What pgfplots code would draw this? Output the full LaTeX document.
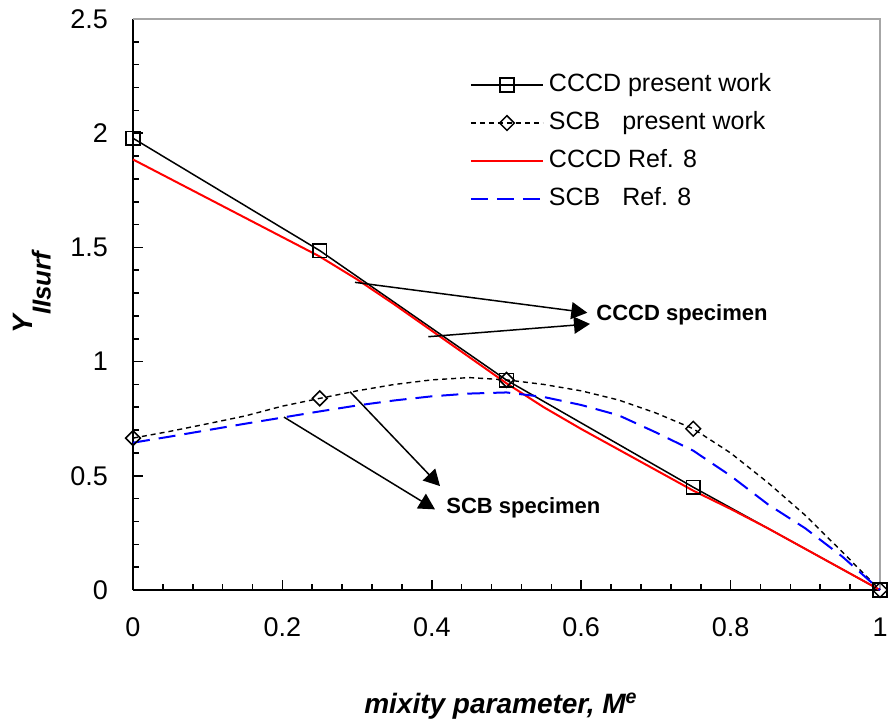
\documentclass[border=0pt]{standalone}
\usepackage{fontspec}
\setmainfont{Liberation Sans}
\usepackage{pgfplots}
\pgfplotsset{compat=1.18}
\usetikzlibrary{arrows.meta}
\pgfplotsset{diamondleg/.style={legend image code/.code={\draw[##1] (0pt,0pt) -- (36pt,0pt);
    \draw[black, solid, line width=0.75pt] plot[mark=square, mark size=2.6pt, mark options={rotate=45}] coordinates {(18pt,0pt)};}}}

\begin{document}
\begin{tikzpicture}
\begin{axis}[
  name=ax,
  scale only axis, width=373.5pt, height=285.5pt,
  xmin=0, xmax=1, ymin=0, ymax=2.5,
  xtick={0,0.2,0.4,0.6,0.8,1}, ytick={0,0.5,1,1.5,2,2.5},
  minor x tick num=4, minor y tick num=4,
  axis x line*=bottom, axis y line*=left,
  axis line style={-, black, line width=1pt},
  tick align=inside,
  major tick length=5pt, minor tick length=3pt,
  every tick/.style={black, line width=0.8pt},
  /pgf/number format/assume math mode=true,
  tick label style={font=\fontsize{13.5}{16}\selectfont},
  xticklabel style={yshift=-10.5pt},
  yticklabel style={xshift=-9pt},
  clip=false,
  xlabel={mixity parameter, M\textsuperscript{e}},
  xlabel style={font=\fontsize{14}{16}\selectfont\bfseries\itshape, at={(axis description cs:0.4926,-0.203)}, anchor=center},
  ylabel={\fontsize{14}{14}\selectfont Y\raisebox{-9pt}{\fontsize{13}{13}\selectfont IIsurf}},
  ylabel style={font=\bfseries\itshape, at={(axis description cs:-0.1352,0.521)}, anchor=center, rotate=0},
  legend style={draw=none, fill=none, at={(axis description cs:0.4511,0.9054)}, anchor=north west,
    inner sep=0pt, outer sep=0pt, font=\fontsize{12.5}{15}\selectfont,
    nodes={inner sep=0pt, text height=9pt, text depth=3pt}, row sep=7pt, column sep=2.5pt},
  legend cell align=left,
  legend image code/.code={\draw[mark repeat=2,mark phase=2,#1] plot coordinates {(0pt,0pt) (18pt,0pt) (36pt,0pt)};},
]
\draw[gray!70, line width=0.6pt] (rel axis cs:0,1) -- (rel axis cs:1,1) -- (rel axis cs:1,0);

\addplot[black, line width=0.75pt, mark=square, mark size=3.4pt, mark options={solid, line width=0.75pt}]
  coordinates {(0,1.978) (0.25,1.486) (0.5,0.919) (0.75,0.45) (1,0)};
\addlegendentry{CCCD present work}

\addplot[black, line width=0.7pt, dash pattern=on 2.5pt off 2pt, diamondleg]
  coordinates {(0,0.665) (0.05,0.695) (0.1,0.728) (0.15,0.762) (0.2,0.805) (0.25,0.839)
  (0.3,0.872) (0.35,0.9) (0.4,0.92) (0.45,0.93) (0.5,0.92) (0.55,0.9) (0.6,0.872)
  (0.65,0.832) (0.7,0.775) (0.75,0.706) (0.8,0.6) (0.85,0.47) (0.9,0.327) (0.95,0.165) (1,0)};
\addlegendentry{SCB\hspace{7.5pt} present work}

\addplot[red, line width=1pt]
  coordinates {(0,1.885) (0.05,1.8) (0.1,1.715) (0.15,1.63) (0.2,1.545) (0.25,1.46)
  (0.3,1.36) (0.35,1.25) (0.4,1.135) (0.45,1.02) (0.5,0.905) (0.55,0.8) (0.6,0.705)
  (0.65,0.615) (0.7,0.525) (0.75,0.435) (0.8,0.355) (0.85,0.27) (0.9,0.18) (0.95,0.09) (1,0)};
\addlegendentry{CCCD Ref. 8}

\addplot[blue, line width=1pt, dash pattern=on 8.5pt off 4.5pt]
  coordinates {(0,0.645) (0.05,0.672) (0.1,0.7) (0.15,0.728) (0.2,0.755) (0.25,0.782)
  (0.3,0.808) (0.35,0.83) (0.4,0.848) (0.45,0.86) (0.5,0.865) (0.55,0.845) (0.6,0.81)
  (0.65,0.765) (0.7,0.69) (0.75,0.61) (0.8,0.5) (0.85,0.375) (0.9,0.27) (0.95,0.145) (1,0)};
\addlegendentry{SCB\hspace{7.5pt} Ref. 8}

\addplot[only marks, forget plot, black, mark=square, mark size=2.6pt, mark options={solid, rotate=45, line width=0.75pt}]
  coordinates {(0,0.665) (0.25,0.839) (0.5,0.92) (0.75,0.706) (1,0)};

\draw[-{Triangle[length=8pt,width=8.5pt]}, line width=0.75pt] (axis cs:0.2972,1.347) -- (axis cs:0.6082,1.214);
\draw[-{Triangle[length=8pt,width=8.5pt]}, line width=0.75pt] (axis cs:0.3953,1.109) -- (axis cs:0.6118,1.165);
\draw[-{Triangle[length=8pt,width=8.5pt]}, line width=0.75pt] (axis cs:0.2905,0.868) -- (axis cs:0.411,0.455);
\draw[-{Triangle[length=8pt,width=8.5pt]}, line width=0.75pt] (axis cs:0.2021,0.757) -- (axis cs:0.4043,0.353);
\node[anchor=base west, inner sep=0pt, font=\fontsize{11}{13}\selectfont\bfseries] at (axis cs:0.6198,1.182) {CCCD specimen};
\node[anchor=base west, inner sep=0pt, font=\fontsize{11}{13}\selectfont\bfseries] at (axis cs:0.419,0.337) {SCB specimen};
\end{axis}
\pgfresetboundingbox
\path ([xshift=-66.5pt,yshift=-67pt]ax.south west) rectangle ([xshift=4pt,yshift=9.5pt]ax.north east);
\end{tikzpicture}
\end{document}
